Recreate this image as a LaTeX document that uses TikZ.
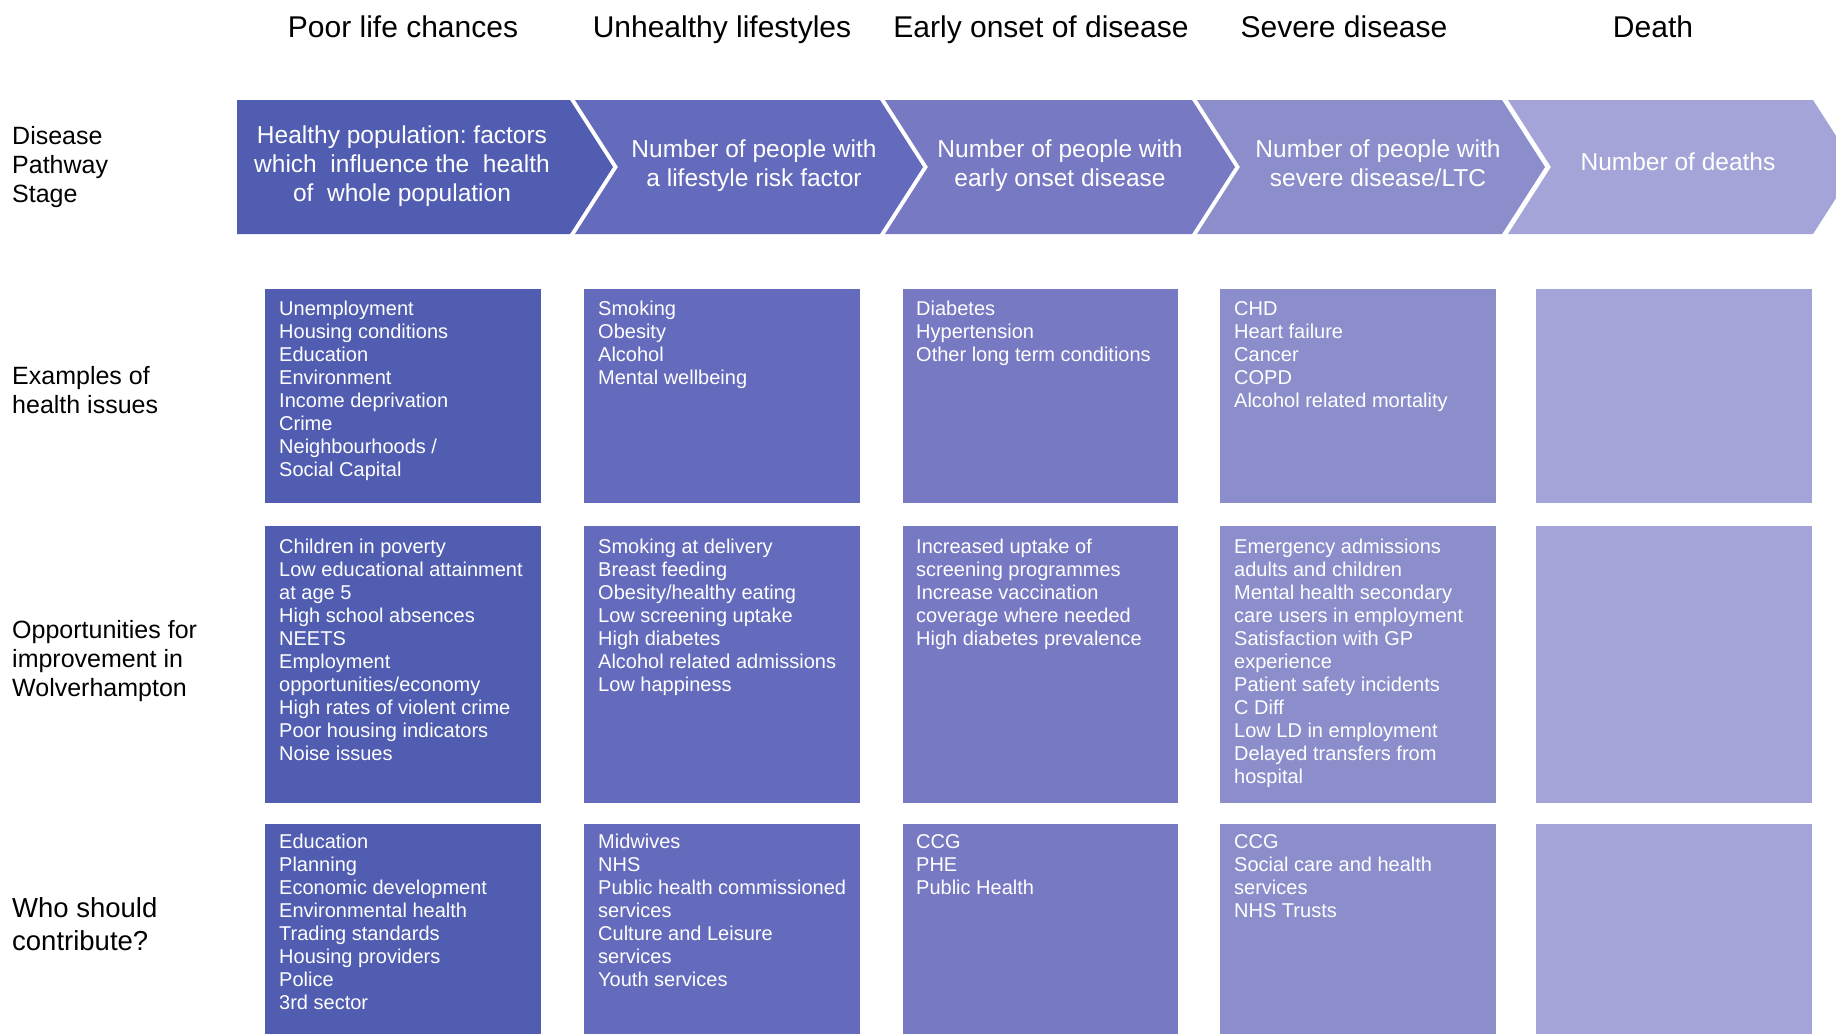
\documentclass[tikz,border=0pt]{standalone}
\usepackage{fontspec}
\setmainfont{Liberation Sans}
\frenchspacing
\begin{document}
\begin{tikzpicture}[x=1pt,y=-1pt,
  stagehead/.style={font=\fontsize{30}{34}\selectfont, anchor=base, inner sep=0pt},
  rowlabel/.style={font=\fontsize{25}{29}\selectfont, align=left, anchor=west, inner sep=0pt},
  chevtext/.style={text=white, font=\fontsize{24.5}{28.7}\selectfont, align=center, anchor=center, inner sep=0pt},
  boxtext/.style={text=white, font=\fontsize{20}{23}\selectfont, align=left, anchor=north west, inner sep=0pt}]
\definecolor{stageA}{HTML}{505DB1}
\definecolor{stageB}{HTML}{646BBC}
\definecolor{stageC}{HTML}{7879C3}
\definecolor{stageD}{HTML}{8C8ECC}
\definecolor{stageE}{HTML}{A4A4D8}
\clip (0,0) rectangle (1836,1034);
\fill[white] (0,0) rectangle (1836,1034);

% stage headings
\node[stagehead] (h1) at (403,37) {Poor life chances};
\node[stagehead] (h2) at (722,37) {Unhealthy lifestyles};
\node[stagehead] (h3) at (1041,37) {Early onset of disease};
\node[stagehead] (h4) at (1344,37) {Severe disease};
\node[stagehead] (h5) at (1653,37) {Death};

% pathway chevrons
\fill[stageA] (237,100) -- (570,100) -- (613,167) -- (570,234) -- (237,234) -- cycle;
\fill[stageB] (575,100) -- (880,100) -- (923,167) -- (880,234) -- (575,234) -- (618,167) -- cycle;
\fill[stageC] (885,100) -- (1192,100) -- (1235,167) -- (1192,234) -- (885,234) -- (928,167) -- cycle;
\fill[stageD] (1197,100) -- (1502,100) -- (1545,167) -- (1502,234) -- (1197,234) -- (1240,167) -- cycle;
\fill[stageE] (1508,100) -- (1813,100) -- (1856,167) -- (1813,234) -- (1508,234) -- (1551,167) -- cycle;

\node[chevtext] (c1) at (402,166) {Healthy population: factors\\which\ \ influence the\ \ health\\of\ \ whole population};
\node[chevtext] (c2) at (754,166) {Number of people with\\a lifestyle risk factor};
\node[chevtext] (c3) at (1060,166) {Number of people with\\early onset disease};
\node[chevtext] (c4) at (1378,163.5) {Number of people with\\severe disease/LTC};
\node[chevtext] (c5) at (1678,162) {Number of deaths};

% row labels
\node[rowlabel] (r0) at (12,167.5) {Disease\\Pathway\\Stage};
\node[rowlabel] (r1) at (12,390) {Examples of\\health issues};
\node[rowlabel] (r2) at (12,661.5) {Opportunities for\\improvement in\\Wolverhampton};
\node[rowlabel, font=\fontsize{27.5}{33}\selectfont] (r3) at (12,924) {Who should\\contribute?};

% column boxes
\fill[stageA] (265,289) rectangle (541,503);
\fill[stageB] (584,289) rectangle (860,503);
\fill[stageC] (903,289) rectangle (1178,503);
\fill[stageD] (1220,289) rectangle (1496,503);
\fill[stageE] (1536,289) rectangle (1812,503);

\fill[stageA] (265,526) rectangle (541,803);
\fill[stageB] (584,526) rectangle (860,803);
\fill[stageC] (903,526) rectangle (1178,803);
\fill[stageD] (1220,526) rectangle (1496,803);
\fill[stageE] (1536,526) rectangle (1812,803);

\fill[stageA] (265,824) rectangle (541,1034);
\fill[stageB] (584,824) rectangle (860,1034);
\fill[stageC] (903,824) rectangle (1178,1034);
\fill[stageD] (1220,824) rectangle (1496,1034);
\fill[stageE] (1536,824) rectangle (1812,1034);

% examples of health issues
\node[boxtext] (e1) at (279,300.5) {Unemployment\\Housing conditions\\Education\\Environment\\Income deprivation\\Crime\\Neighbourhoods /\\Social Capital};
\node[boxtext] (e2) at (598,300.5) {Smoking\\Obesity\\Alcohol\\Mental wellbeing};
\node[boxtext] (e3) at (916,300.5) {Diabetes\\Hypertension\\Other long term conditions};
\node[boxtext] (e4) at (1234,301.5) {CHD\\Heart failure\\Cancer\\COPD\\Alcohol related mortality};

% opportunities for improvement
\node[boxtext] (o1) at (279,538.5) {Children in poverty\\Low educational attainment\\at age 5\\High school absences\\NEETS\\Employment\\opportunities/economy\\High rates of violent crime\\Poor housing indicators\\Noise issues};
\node[boxtext] (o2) at (598,538.5) {Smoking at delivery\\Breast feeding\\Obesity/healthy eating\\Low screening uptake\\High diabetes\\Alcohol related admissions\\Low happiness};
\node[boxtext] (o3) at (916,538.5) {Increased uptake of\\screening programmes\\Increase vaccination\\coverage where needed\\High diabetes prevalence};
\node[boxtext] (o4) at (1234,538.5) {Emergency admissions\\adults and children\\Mental health secondary\\care users in employment\\Satisfaction with GP\\experience\\Patient safety incidents\\C Diff\\Low LD in employment\\Delayed transfers from\\hospital};

% who should contribute
\node[boxtext] (w1) at (279,834) {Education\\Planning\\Economic development\\Environmental health\\Trading standards\\Housing providers\\Police\\3rd sector};
\node[boxtext] (w2) at (598,834) {Midwives\\NHS\\Public health commissioned\\services\\Culture and Leisure\\services\\Youth services};
\node[boxtext] (w3) at (916,834) {CCG\\PHE\\Public Health};
\node[boxtext] (w4) at (1234,834) {CCG\\Social care and health\\services\\NHS Trusts};
\end{tikzpicture}
\end{document}
